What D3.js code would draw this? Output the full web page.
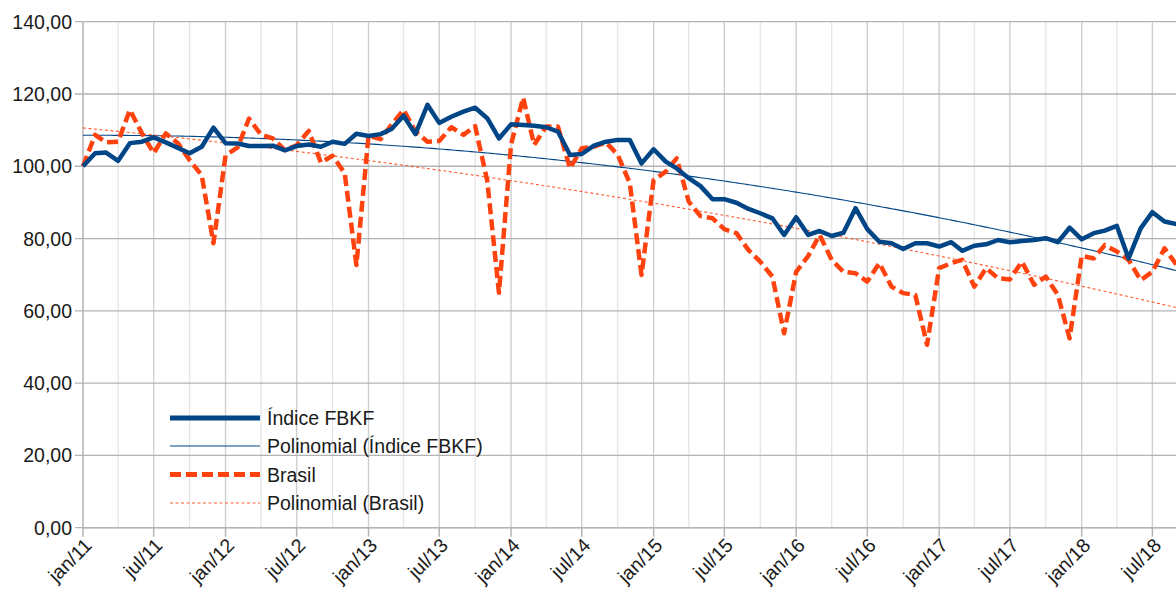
<!DOCTYPE html>
<html><head><meta charset="utf-8">
<script src="https://cdn.jsdelivr.net/npm/d3@7"></script>
<style>html,body{margin:0;padding:0;background:#fff;} svg{display:block;font-family:"Liberation Sans",Arial,sans-serif;}</style>
</head><body><svg id="c" width="1176" height="592"></svg>
<script>
// ---- data ----
const startYear = 2011;
const monthAbbr = ["jan","fev","mar","abr","mai","jun","jul","ago","set","out","nov","dez"];
const yTicks = [0,20,40,60,80,100,120,140];
const seriesNames = ["Índice FBKF","Polinomial (Índice FBKF)","Brasil","Polinomial (Brasil)"];
const fbkf = [
  100.0,103.6,103.8,101.5,106.4,106.8,108.0,106.6,105.1,103.6,105.4,110.7,
  106.4,106.3,105.6,105.6,105.7,104.4,105.6,106.0,105.4,106.8,106.2,109.0,
  108.4,108.9,110.3,114.0,108.9,117.0,112.0,113.7,115.1,116.2,113.3,107.7,
  111.6,111.4,111.2,110.8,109.6,103.1,103.4,105.7,106.8,107.3,107.3,100.8,
  104.7,101.3,99.4,96.7,94.5,90.9,90.9,89.9,88.2,87.0,85.6,81.0,
  85.9,81.0,82.1,80.7,81.6,88.4,82.6,79.1,78.7,77.1,78.7,78.7,
  77.8,79.0,76.6,78.0,78.4,79.6,79.0,79.3,79.6,80.1,79.0,83.0,
  79.8,81.5,82.2,83.5,74.5,82.8,87.3,84.7,84.0
];
const brasil = [
  100.0,108.7,106.6,106.8,115.6,109.1,103.6,109.1,106.4,101.7,97.5,78.7,
  103.0,105.2,113.2,108.7,107.7,104.5,105.8,109.8,101.0,102.9,98.1,72.7,
  108.4,107.5,111.5,115.6,109.6,106.8,107.0,110.8,108.7,111.1,96.0,65.0,
  106.0,119.0,105.9,111.0,111.0,99.4,105.0,105.4,106.6,103.2,95.3,69.9,
  96.2,98.5,102.2,90.2,86.2,85.6,82.6,81.5,76.8,73.6,69.5,53.8,
  70.8,75.2,81.0,74.1,70.8,70.4,68.1,73.2,66.7,64.9,64.4,50.6,
  71.8,73.2,74.1,66.7,71.8,69.0,68.7,73.6,67.2,69.5,64.4,52.4,
  75.2,74.5,78.2,76.4,74.1,68.5,70.8,77.3,72.7
];

// ---- setup ----
const W = 1176, H = 592;
const svg = d3.select("#c");
const dates = fbkf.map((_, i) => new Date(Date.UTC(startYear, i, 1)));
const x = d3.scaleUtc().domain([new Date(Date.UTC(2011,0,1)), new Date(Date.UTC(2018,0,1))]).range([83, 1081.7]);
const y = d3.scaleLinear().domain([0, 140]).range([527.7, 21.7]);
const xEnd = x.invert(W);

// gridlines
const quarters = d3.utcMonth.every(3).range(new Date(Date.UTC(2011,0,1)), xEnd);
svg.append("g").selectAll("line").data(quarters.slice(1)).join("line")
  .attr("x1", d => x(d)).attr("x2", d => x(d))
  .attr("y1", y(0)).attr("y2", y(140))
  .attr("stroke", d => (d.getUTCMonth() % 6 === 0) ? "#cfcfcf" : "#e3e3e3")
  .attr("stroke-width", d => (d.getUTCMonth() % 6 === 0) ? 1.4 : 1.2);
svg.append("g").selectAll("line").data(yTicks).join("line")
  .attr("x1", 75).attr("x2", W).attr("y1", d => y(d)).attr("y2", d => y(d))
  .attr("stroke", "#b3b3b3").attr("stroke-width", 1.3);

// axes
const axisColor = "#b3b3b3";
svg.append("line").attr("x1", x(dates[0])).attr("x2", x(dates[0])).attr("y1", y(0)).attr("y2", y(140))
  .attr("stroke", axisColor).attr("stroke-width", 1.5);
svg.append("line").attr("x1", 83).attr("x2", W).attr("y1", y(0)).attr("y2", y(0))
  .attr("stroke", axisColor).attr("stroke-width", 1.5);
const majorTicks = d3.utcMonth.every(6).range(new Date(Date.UTC(2011,0,1)), xEnd);
svg.append("g").selectAll("line").data(majorTicks).join("line")
  .attr("x1", d => x(d)).attr("x2", d => x(d)).attr("y1", y(0)).attr("y2", y(0) + 9)
  .attr("stroke", axisColor).attr("stroke-width", 1.5);

const fmtNum = v => v.toFixed(2).replace(".", ",");
svg.append("g").selectAll("text").data(yTicks).join("text")
  .attr("x", 72).attr("y", d => y(d)).attr("dy", "0.36em")
  .attr("text-anchor", "end").attr("font-size", 19.5).attr("fill", "#1a1a1a")
  .text(fmtNum);

const fmtDate = d => monthAbbr[d.getUTCMonth()] + "/" + String(d.getUTCFullYear() % 100).padStart(2, "0");
svg.append("g").selectAll("text").data(majorTicks).join("text")
  .attr("transform", d => `translate(${x(d) + 5},${y(0) + 14}) rotate(-45)`)
  .attr("dy", "0.36em")
  .attr("text-anchor", "end").attr("font-size", 19.5).attr("fill", "#1a1a1a")
  .text(fmtDate);

// polynomial (deg 2) least squares trend
function polyFit(xs, ys) {
  const n = xs.length;
  const S = [0,0,0,0,0], T = [0,0,0];
  for (let i = 0; i < n; i++) {
    let p = 1;
    for (let k = 0; k < 5; k++) { S[k] += p; if (k < 3) T[k] += p * ys[i]; p *= xs[i]; }
  }
  const A = [[S[0],S[1],S[2],T[0]],[S[1],S[2],S[3],T[1]],[S[2],S[3],S[4],T[2]]];
  for (let c = 0; c < 3; c++) {
    for (let r = c + 1; r < 3; r++) {
      const f = A[r][c] / A[c][c];
      for (let k = c; k < 4; k++) A[r][k] -= f * A[c][k];
    }
  }
  const b = [0,0,0];
  for (let r = 2; r >= 0; r--) {
    let s = A[r][3];
    for (let k = r + 1; k < 3; k++) s -= A[r][k] * b[k];
    b[r] = s / A[r][r];
  }
  return t => b[0] + b[1] * t + b[2] * t * t;
}
const tDays = dates.map(d => (d - dates[0]) / 864e5 / 1000);
const fitF = polyFit(tDays, fbkf);
const fitB = polyFit(tDays, brasil);
const trendDates = d3.utcDay.every(10).range(dates[0], d3.utcDay.offset(dates[dates.length - 1], 1));
const line = d3.line().x(d => x(d[0])).y(d => y(d[1]));

const blue = "#004586", orange = "#ff420e";
svg.append("path").datum(trendDates.map(d => [d, fitF((d - dates[0]) / 864e5 / 1000)]))
  .attr("d", line).attr("fill", "none").attr("stroke", blue).attr("stroke-width", 1.1);
svg.append("path").datum(trendDates.map(d => [d, fitB((d - dates[0]) / 864e5 / 1000)]))
  .attr("d", line).attr("fill", "none").attr("stroke", orange).attr("stroke-opacity", 0.85)
  .attr("stroke-width", 1.1).attr("stroke-dasharray", "3,2.5");

svg.append("path").datum(dates.map((d, i) => [d, brasil[i]]))
  .attr("d", line).attr("fill", "none").attr("stroke", orange).attr("stroke-width", 4.5)
  .attr("stroke-dasharray", "11,5").attr("stroke-linejoin", "round");
svg.append("path").datum(dates.map((d, i) => [d, fbkf[i]]))
  .attr("d", line).attr("fill", "none").attr("stroke", blue).attr("stroke-width", 4.5)
  .attr("stroke-linejoin", "round");

// legend
const legendY = [418, 446, 474.5, 503];
const legendStyles = [
  {stroke: blue, w: 5, dash: null, op: 1},
  {stroke: blue, w: 1.1, dash: null, op: 1},
  {stroke: orange, w: 5, dash: "11,5", op: 1},
  {stroke: orange, w: 1.1, dash: "3,2.5", op: 0.85}
];
const lg = svg.append("g");
seriesNames.forEach((name, i) => {
  const s = legendStyles[i];
  lg.append("line").attr("x1", 170).attr("x2", 260).attr("y1", legendY[i]).attr("y2", legendY[i])
    .attr("stroke", s.stroke).attr("stroke-width", s.w).attr("stroke-opacity", s.op)
    .attr("stroke-dasharray", s.dash);
  lg.append("text").attr("x", 267).attr("y", legendY[i]).attr("dy", "0.36em")
    .attr("font-size", 19.5).attr("fill", "#1a1a1a").text(name);
});
</script></body></html>
